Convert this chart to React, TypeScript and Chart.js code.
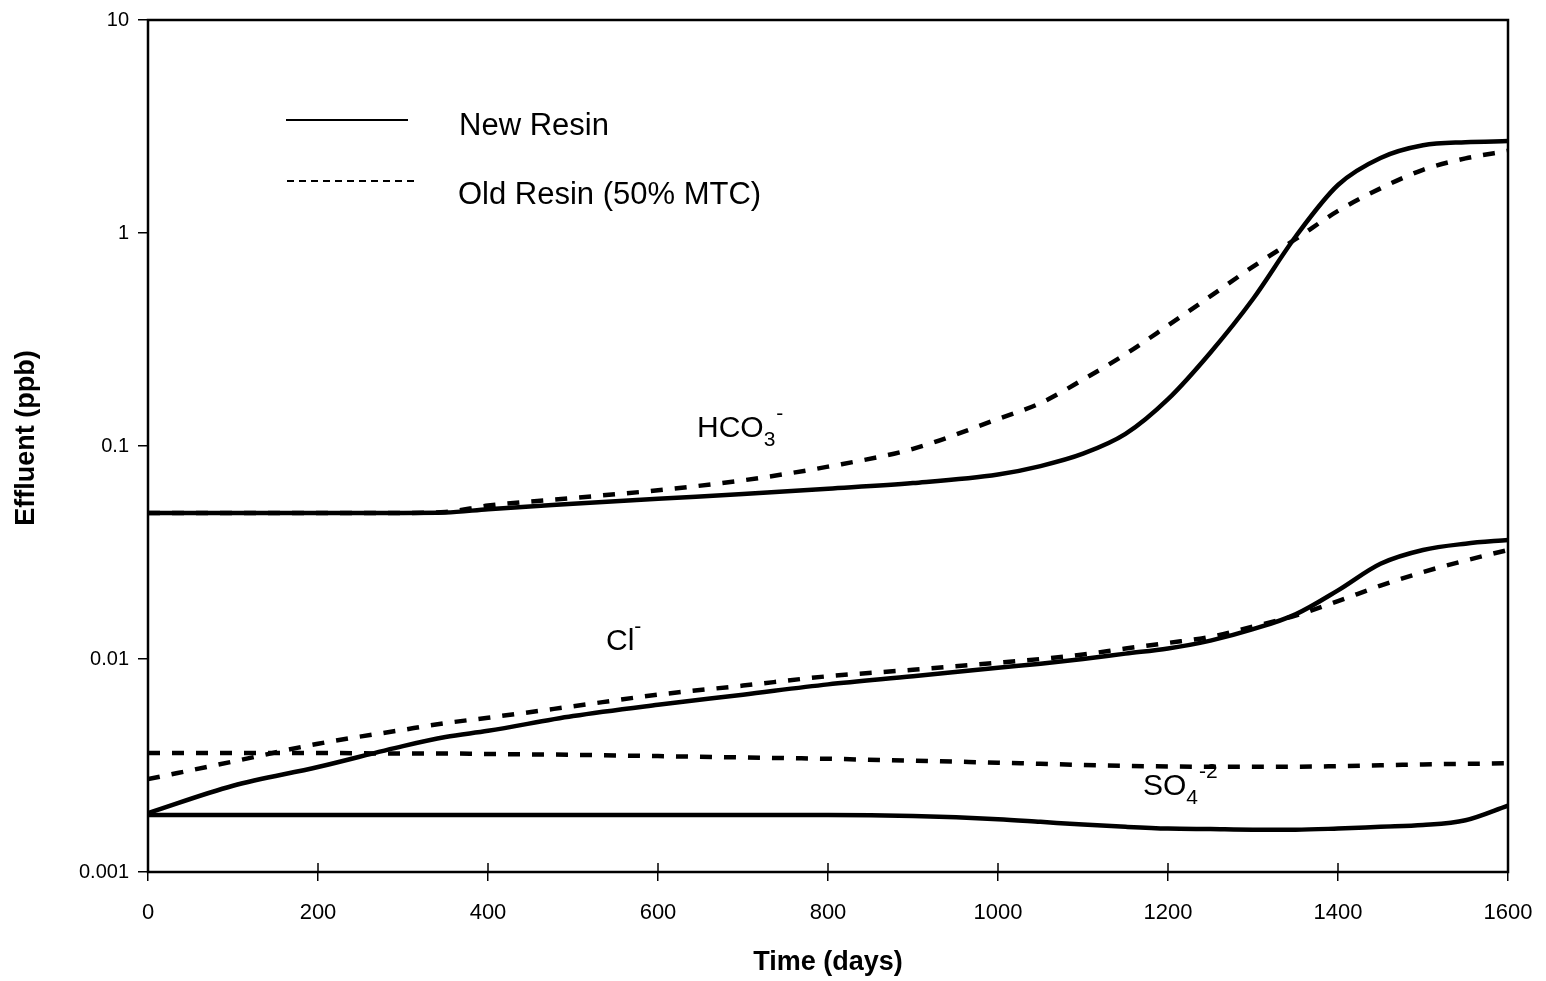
import React, { useEffect, useRef } from "react";
import { Chart, registerables } from "chart.js";

Chart.register(...registerables);

// ---- Data ----
const days = [0, 100, 200, 300, 350, 400, 500, 600, 700, 800, 900, 1000, 1050, 1100, 1150, 1200, 1250, 1300, 1350, 1400, 1450, 1500, 1550, 1600];

const hco3New = [0.0485, 0.0485, 0.0485, 0.0485, 0.0487, 0.0505, 0.0535, 0.0565, 0.0595, 0.063, 0.067, 0.0735, 0.0805, 0.092, 0.114, 0.166, 0.275, 0.49, 0.96, 1.68, 2.25, 2.58, 2.67, 2.7];
const hco3Old = [0.0485, 0.0485, 0.0485, 0.0485, 0.049, 0.0525, 0.057, 0.062, 0.069, 0.08, 0.097, 0.134, 0.159, 0.205, 0.27, 0.368, 0.505, 0.695, 0.935, 1.27, 1.62, 1.98, 2.24, 2.43];

const clNew = [0.00189, 0.00254, 0.00311, 0.0039, 0.0043, 0.0046, 0.0054, 0.0061, 0.0068, 0.0076, 0.0083, 0.0091, 0.0095, 0.01, 0.0106, 0.0112, 0.0122, 0.0138, 0.0162, 0.021, 0.028, 0.0325, 0.0348, 0.0362];
const clOld = [0.00273, 0.0033, 0.004, 0.00465, 0.005, 0.0053, 0.006, 0.0068, 0.0075, 0.0083, 0.0089, 0.0096, 0.01, 0.0105, 0.0112, 0.0119, 0.0127, 0.0142, 0.016, 0.0187, 0.0221, 0.0256, 0.029, 0.0325];

const so4New = [0.00185, 0.00185, 0.00185, 0.00185, 0.00185, 0.00185, 0.00185, 0.00185, 0.00185, 0.00185, 0.00183, 0.00177, 0.00172, 0.00167, 0.00163, 0.0016, 0.00159, 0.00158, 0.00158, 0.0016, 0.00163, 0.00166, 0.00175, 0.00205];
const so4Old = [0.00362, 0.00362, 0.00362, 0.0036, 0.0036, 0.00358, 0.00355, 0.0035, 0.00345, 0.0034, 0.00333, 0.00326, 0.00322, 0.00318, 0.00315, 0.00313, 0.00312, 0.00312, 0.00312, 0.00314, 0.00317, 0.0032, 0.00322, 0.00324];

const xTickValues = [0, 200, 400, 600, 800, 1000, 1200, 1400, 1600];
const yTickValues = [0.001, 0.01, 0.1, 1, 10];
const yTickLabels = ["0.001", "0.01", "0.1", "1", "10"];

const legendLabels = ["New Resin", "Old Resin (50% MTC)"];
const xTitle = "Time (days)";
const yTitle = "Effluent (ppb)";

const FONT = '"Liberation Sans", Arial, Helvetica, sans-serif';

function toPoints(values: number[]) {
  return days.map((d, i) => ({ x: d, y: values[i] }));
}

const decorPlugin = {
  id: "decor",
  afterDraw(chart: any) {
    const ctx = chart.ctx as CanvasRenderingContext2D;
    const area = chart.chartArea;
    const xs = chart.scales.x;
    ctx.save();
    ctx.fillStyle = "#000";
    ctx.strokeStyle = "#000";

    // frame
    ctx.lineWidth = 2.5;
    ctx.setLineDash([]);
    ctx.strokeRect(area.left, area.top, area.right - area.left, area.bottom - area.top);

    // x ticks inward part
    ctx.lineWidth = 1.5;
    xTickValues.forEach((v) => {
      const px = xs.getPixelForValue(v);
      ctx.beginPath();
      ctx.moveTo(px, area.bottom);
      ctx.lineTo(px, area.bottom - 9);
      ctx.stroke();
    });

    // axis titles
    ctx.font = `bold 27px ${FONT}`;
    ctx.textAlign = "center";
    ctx.textBaseline = "middle";
    ctx.fillText(xTitle, (area.left + area.right) / 2, 963);
    ctx.save();
    ctx.translate(27, 438);
    ctx.rotate(-Math.PI / 2);
    ctx.fillText(yTitle, 0, 0);
    ctx.restore();

    // legend
    ctx.textAlign = "left";
    ctx.textBaseline = "alphabetic";
    ctx.lineWidth = 2;
    ctx.beginPath();
    ctx.moveTo(286, 120);
    ctx.lineTo(408, 120);
    ctx.stroke();
    ctx.setLineDash([7, 5]);
    ctx.beginPath();
    ctx.moveTo(287, 181);
    ctx.lineTo(414, 181);
    ctx.stroke();
    ctx.setLineDash([]);
    ctx.font = `31px ${FONT}`;
    ctx.fillText(legendLabels[0], 459, 135);
    ctx.fillText(legendLabels[1], 458, 204);

    // ion labels with sub/superscripts
    const drawIon = (base: string, sub: string, sup: string, x: number, y: number) => {
      ctx.font = `30px ${FONT}`;
      ctx.fillText(base, x, y);
      let cx = x + ctx.measureText(base).width;
      ctx.font = `21px ${FONT}`;
      if (sub) {
        ctx.fillText(sub, cx, y + 9);
        cx += ctx.measureText(sub).width + 1;
      }
      if (sup) {
        ctx.fillText(sup, cx, y - 17);
      }
    };
    drawIon("HCO", "3", "-", 697, 437);
    drawIon("Cl", "", "-", 606, 650);
    drawIon("SO", "4", "-2", 1143, 795);

    ctx.restore();
  },
};

export default function App() {
  const canvasRef = useRef<HTMLCanvasElement | null>(null);

  useEffect(() => {
    document.body.style.margin = "0";
    const canvas = canvasRef.current;
    if (!canvas) return;

    const solid = (label: string, values: number[]) => ({
      label,
      data: toPoints(values),
      borderColor: "#000",
      backgroundColor: "#000",
      borderWidth: 4.5,
      pointRadius: 0,
      fill: false,
      cubicInterpolationMode: "monotone" as const,
    });
    const dashed = (label: string, values: number[]) => ({
      ...solid(label, values),
      borderDash: [12, 12],
    });

    const chart = new Chart(canvas, {
      type: "line",
      data: {
        datasets: [
          solid("HCO3- New Resin", hco3New),
          dashed("HCO3- Old Resin (50% MTC)", hco3Old),
          solid("Cl- New Resin", clNew),
          dashed("Cl- Old Resin (50% MTC)", clOld),
          solid("SO4-2 New Resin", so4New),
          dashed("SO4-2 Old Resin (50% MTC)", so4Old),
        ],
      },
      options: {
        animation: false,
        responsive: false,
        devicePixelRatio: 1,
        layout: { padding: { top: 20, right: 38, left: 0, bottom: 0 } },
        plugins: {
          legend: { display: false },
          tooltip: { enabled: false },
          title: { display: false },
        },
        scales: {
          x: {
            type: "linear",
            min: 0,
            max: 1600,
            afterBuildTicks: (scale: any) => {
              scale.ticks = xTickValues.map((v) => ({ value: v }));
            },
            afterFit: (scale: any) => {
              scale.height = 109;
              scale.paddingLeft = 0;
              scale.paddingRight = 0;
            },
            grid: {
              display: true,
              drawOnChartArea: false,
              drawTicks: true,
              tickLength: 9,
              color: "#000",
              lineWidth: 1.5,
            },
            border: { display: false },
            ticks: {
              color: "#000",
              padding: 19,
              maxRotation: 0,
              font: { family: FONT, size: 22 },
              callback: (v: any) => String(v),
            },
          },
          y: {
            type: "logarithmic",
            min: 0.001,
            max: 10,
            afterBuildTicks: (scale: any) => {
              scale.ticks = yTickValues.map((v) => ({ value: v }));
            },
            afterFit: (scale: any) => {
              scale.width = 148;
              scale.paddingTop = 0;
              scale.paddingBottom = 0;
            },
            grid: {
              display: true,
              drawOnChartArea: false,
              drawTicks: true,
              tickLength: 10,
              color: "#000",
              lineWidth: 1.5,
            },
            border: { display: false },
            ticks: {
              color: "#000",
              padding: 9,
              font: { family: FONT, size: 20 },
              callback: (v: any) => {
                const i = yTickValues.findIndex((t) => Math.abs(t - Number(v)) / t < 1e-6);
                return i >= 0 ? yTickLabels[i] : "";
              },
            },
          },
        },
      },
      plugins: [decorPlugin],
    });

    return () => {
      chart.destroy();
    };
  }, []);

  return (
    <div style={{ position: "absolute", left: 0, top: 0, width: 1546, height: 981, background: "#fff" }}>
      <canvas ref={canvasRef} width={1546} height={981} style={{ display: "block" }} />
    </div>
  );
}
